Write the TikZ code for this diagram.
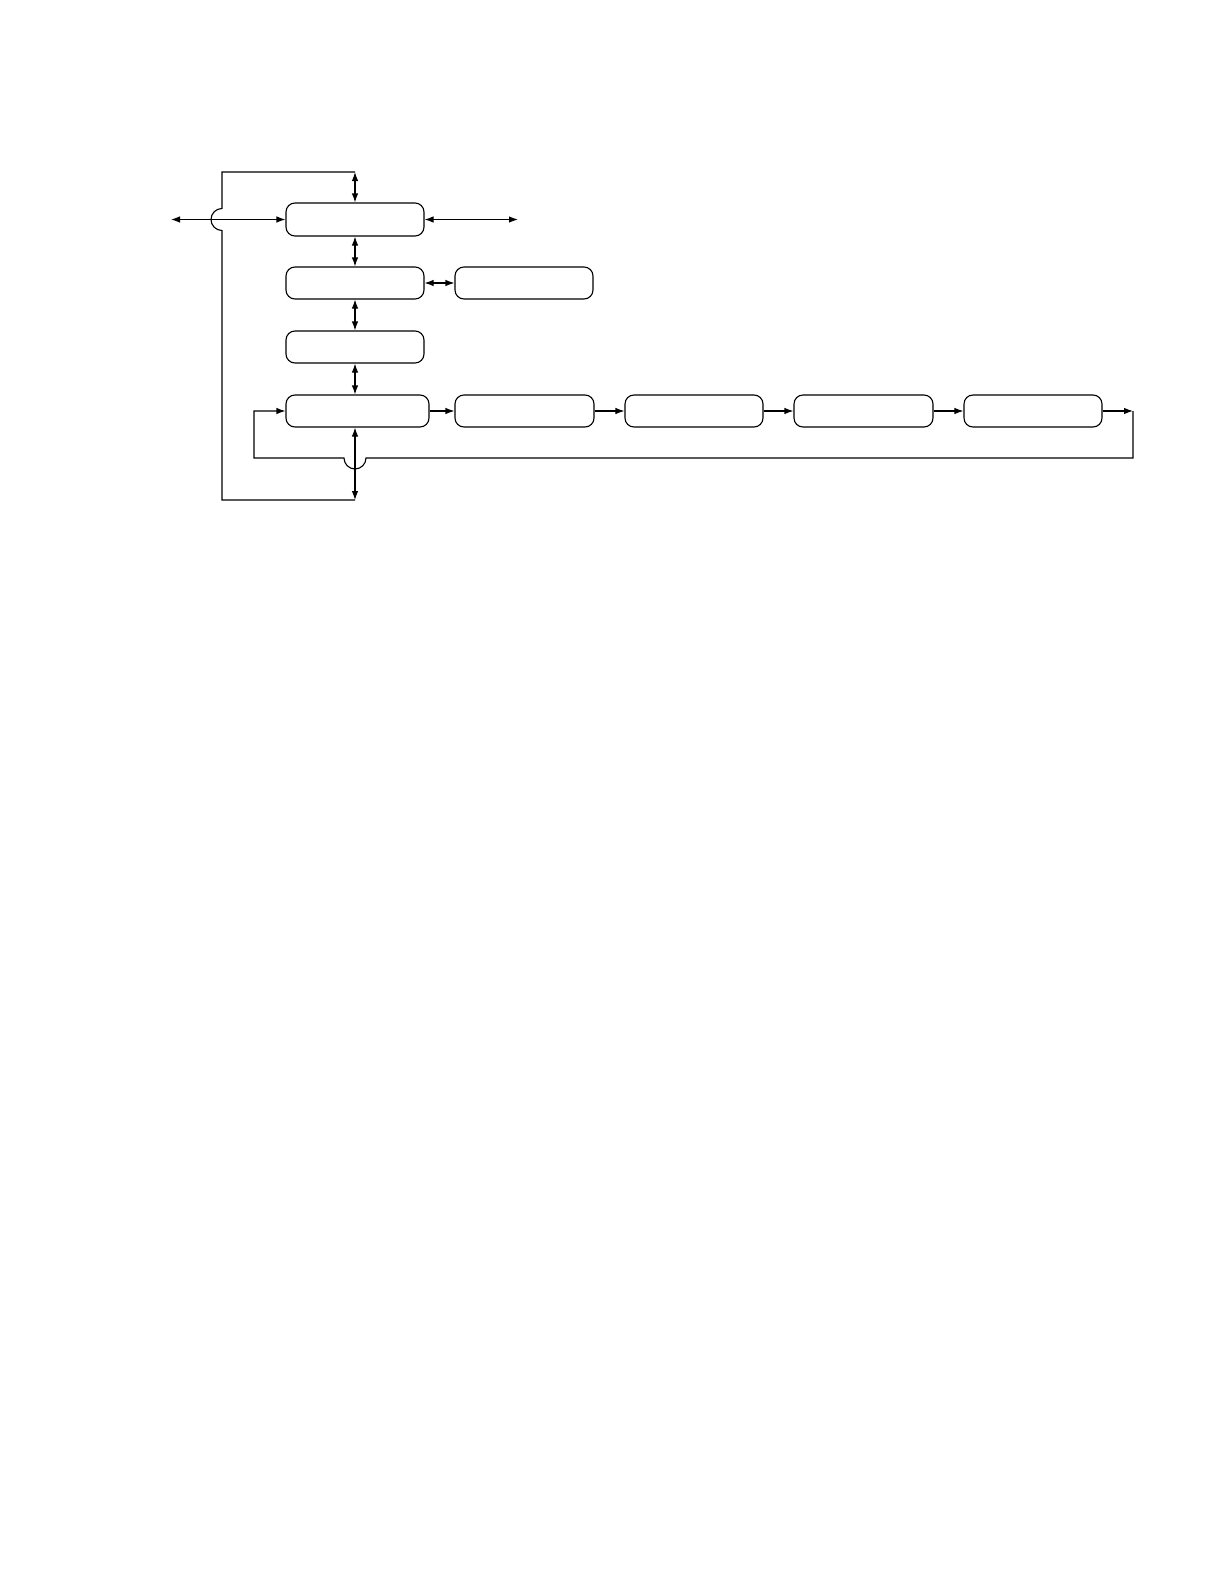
\documentclass[tikz,border=0pt]{standalone}
\usetikzlibrary{arrows.meta}
\begin{document}
\begin{tikzpicture}[x=1pt,y=1pt,
  line width=1.1pt,
  >={Latex[length=9pt,width=6.5pt]},
  box/.style={draw,rounded corners=9pt,minimum width=138pt,minimum height=32pt,inner sep=0pt,line width=1.1pt},
  wbox/.style={box,minimum width=143pt}]
\useasboundingbox (0,0) rectangle (1224,-1584);
\node[box,minimum height=33pt] (B1) at (355,-219.5) {};
\node[box] (B2) at (355,-283) {};
\node[box] (B2R) at (524,-283) {};
\node[box] (B3) at (355,-347) {};
\node[wbox] (R1) at (357.5,-411) {};
\node[box,minimum width=139pt] (R2) at (524.5,-411) {};
\node[box] (R3) at (694,-411) {};
\node[box,minimum width=139pt] (R4) at (863.5,-411) {};
\node[box] (R5) at (1033,-411) {};
\coordinate (tc) at (355,-172);
\coordinate (bc) at (355,-500);
\coordinate (L) at (171,-219.5);
\coordinate (Rr) at (518,-219.5);
\coordinate (rc) at (1133,-411);
% vertical chain
\draw[<->] (tc) -- (B1.north);
\draw[<->] (B1.south) -- (B2.north);
\draw[<->] (B2.south) -- (B3.north);
\draw[<->] (B3.south) -- (B3.south |- R1.north);
\draw[<->] (B3.south |- R1.south) -- (bc);
\draw[<->] (B2.east) -- (B2R.west);
\draw[<->] (L) -- (B1.west);
\draw[<->] (B1.east) -- (Rr);
% outer feedback path with jump
\draw (tc) -- (222,-172) -- (222,-208.5) arc[start angle=90,end angle=270,radius=11] -- (222,-500) -- (bc);
% pipeline
\draw[->] (R1) -- (R2);
\draw[->] (R2) -- (R3);
\draw[->] (R3) -- (R4);
\draw[->] (R4) -- (R5);
\draw[->] (R5) -- (rc);
\draw[->] (rc) -- (1133,-458) -- (366,-458) arc[start angle=360,end angle=180,radius=11] -- (254,-458) -- (254,-411) -- (R1.west);
\end{tikzpicture}
\end{document}
